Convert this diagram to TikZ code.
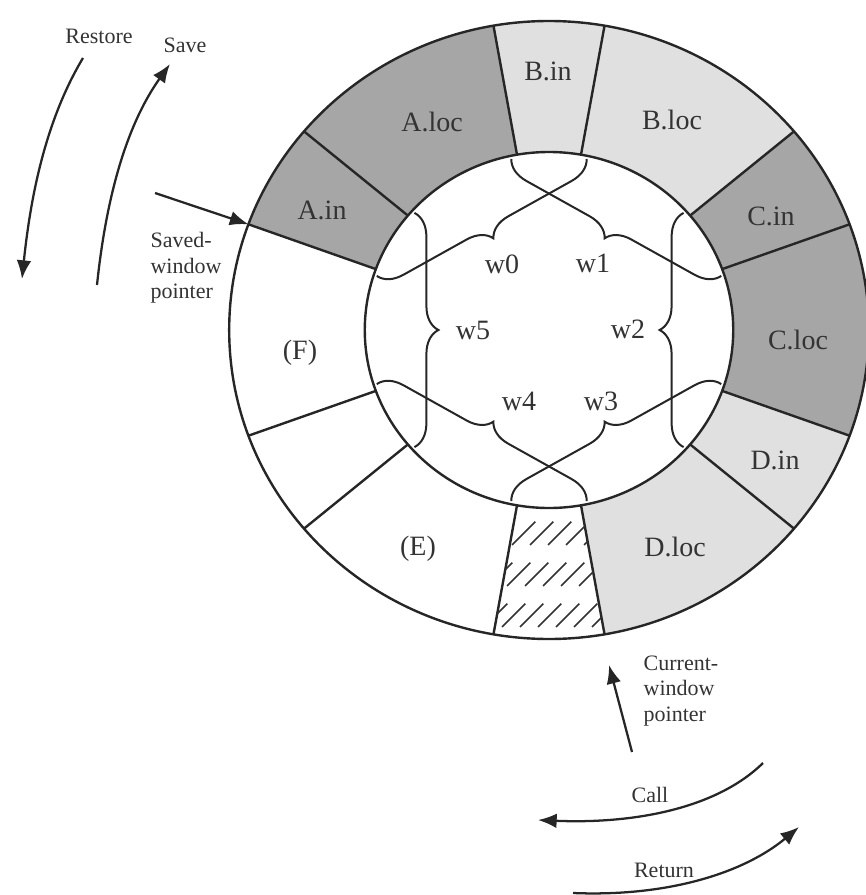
\documentclass[tikz,border=0pt]{standalone}
\usepackage{fontspec}
\setmainfont{Liberation Serif}
\usetikzlibrary{arrows.meta,decorations.pathreplacing}

\tikzset{
  seclabel/.style={font=\fontsize{21}{25}\selectfont, text=black!80, inner sep=0pt},
  notelabel/.style={font=\fontsize{16.5}{19}\selectfont, text=black!80, inner sep=0pt, align=left},
  darksec/.style={fill=black!35},
  lightsec/.style={fill=black!12},
  ringline/.style={line width=1.8pt, draw=black!85},
  wbrace/.style={decorate, decoration={brace, amplitude=18pt}, line width=1.5pt, draw=black!85},
  ptr/.style={line width=1.7pt, draw=black!85, -{Latex[length=14pt,width=11pt]}},
  hatchline/.style={line width=1.1pt, draw=black!80, dash pattern={on 24.75pt off 18.75pt}},
}

\begin{document}
\begin{tikzpicture}[x=0.75pt,y=0.75pt,yscale=-1,xscale=1]
\useasboundingbox (0,0) rectangle (865,895);

\begin{scope}[shift={(549,330)}, xscale=1.035, yscale=-1]
%Shape: Ring sectors
\fill[lightsec] (80:178) arc[start angle=80, end angle=100, radius=178] -- (100:309) arc[start angle=100, end angle=80, radius=309] -- cycle;
\fill[darksec] (100:178) arc[start angle=100, end angle=140, radius=178] -- (140:309) arc[start angle=140, end angle=100, radius=309] -- cycle;
\fill[darksec] (140:178) arc[start angle=140, end angle=160, radius=178] -- (160:309) arc[start angle=160, end angle=140, radius=309] -- cycle;
\fill[lightsec] (280:178) arc[start angle=280, end angle=320, radius=178] -- (320:309) arc[start angle=320, end angle=280, radius=309] -- cycle;
\fill[lightsec] (320:178) arc[start angle=320, end angle=340, radius=178] -- (340:309) arc[start angle=340, end angle=320, radius=309] -- cycle;
\fill[darksec] (-20:178) arc[start angle=-20, end angle=20, radius=178] -- (20:309) arc[start angle=20, end angle=-20, radius=309] -- cycle;
\fill[darksec] (20:178) arc[start angle=20, end angle=40, radius=178] -- (40:309) arc[start angle=40, end angle=20, radius=309] -- cycle;
\fill[lightsec] (40:178) arc[start angle=40, end angle=80, radius=178] -- (80:309) arc[start angle=80, end angle=40, radius=309] -- cycle;

%Shape: Circles
\draw[ringline] (0,0) circle[radius=309];
\draw[ringline] (0,0) circle[radius=178];

%Straight Lines: sector borders
\draw[ringline] (80:178) -- (80:309);
\draw[ringline] (100:178) -- (100:309);
\draw[ringline] (140:178) -- (140:309);
\draw[ringline] (160:178) -- (160:309);
\draw[ringline] (200:178) -- (200:309);
\draw[ringline] (220:178) -- (220:309);
\draw[ringline] (260:178) -- (260:309);
\draw[ringline] (280:178) -- (280:309);
\draw[ringline] (320:178) -- (320:309);
\draw[ringline] (340:178) -- (340:309);
\draw[ringline] (20:178) -- (20:309);
\draw[ringline] (40:178) -- (40:309);

%Shape: Window braces
\draw[wbrace] (78:175) -- (162:175);
\draw[wbrace] (18:175) -- (102:175);
\draw[wbrace] (-42:175) -- (42:175);
\draw[wbrace] (-102:175) -- (-18:175);
\draw[wbrace] (-162:175) -- (-78:175);
\draw[wbrace] (138:175) -- (222:175);

\coordinate (swp) at (160:309);
\end{scope}

%Shape: Hatched sector
\begin{scope}
\clip[shift={(549,330)}, xscale=1.035, yscale=-1] (260:178) arc[start angle=260, end angle=280, radius=178] -- (280:309) arc[start angle=280, end angle=260, radius=309] -- cycle;
\draw[hatchline] (430,627) -- ++(150,-150);
\draw[hatchline] (448,627) -- ++(150,-150);
\draw[hatchline] (466,627) -- ++(150,-150);
\draw[hatchline] (484,627) -- ++(150,-150);
\draw[hatchline] (502,627) -- ++(150,-150);
\draw[hatchline] (520,627) -- ++(150,-150);
\draw[hatchline] (538,627) -- ++(150,-150);
\draw[hatchline] (556,627) -- ++(150,-150);
\draw[hatchline] (574,627) -- ++(150,-150);
\draw[hatchline] (592,627) -- ++(150,-150);
\draw[hatchline] (610,627) -- ++(150,-150);
\end{scope}

% Text Node
\node[seclabel] (Bin) at (548,71) {B.in};
\node[seclabel] (Aloc) at (432,122) {A.loc};
\node[seclabel] (Ain) at (322,210) {A.in};
\node[seclabel] (Bloc) at (672,120) {B.loc};
\node[seclabel] (Cin) at (771,216) {C.in};
\node[seclabel] (Cloc) at (798,340) {C.loc};
\node[seclabel] (Din) at (775,460) {D.in};
\node[seclabel] (Dloc) at (675,547) {D.loc};
\node[seclabel] (E) at (418,549) {(E)};
\node[seclabel] (F) at (300,353) {(F)};
% Text Node
\node[seclabel] (w0) at (502,264) {w0};
\node[seclabel] (w1) at (593,263) {w1};
\node[seclabel] (w2) at (628,329) {w2};
\node[seclabel] (w3) at (601,401) {w3};
\node[seclabel] (w4) at (519,401) {w4};
\node[seclabel] (w5) at (473,330) {w5};
% Text Node
\node[notelabel] (restore) at (99,36) {Restore};
\node[notelabel] (save) at (185,45) {Save};
\node[notelabel] (swptext) at (186,268) {Saved-\\window\\pointer};
\node[notelabel] (cwptext) at (681,691) {Current-\\window\\pointer};
\node[notelabel] (call) at (650,795) {Call};
\node[notelabel] (return) at (664,870) {Return};

%Curve Lines
\coordinate (restore-a) at (83,58);
\coordinate (restore-b) at (22,279);
\draw[ptr] (restore-a) .. controls (44,123) and (30,202) .. (restore-b);
\coordinate (save-a) at (97,285);
\coordinate (save-b) at (170,64);
\draw[ptr] (save-a) .. controls (105,208) and (123,130) .. (save-b);
\coordinate (call-a) at (763,763);
\coordinate (call-b) at (538,820);
\draw[ptr] (call-a) .. controls (715,810) and (630,824) .. (call-b);
\coordinate (return-a) at (573,893);
\coordinate (return-b) at (799,827);
\draw[ptr] (return-a) .. controls (670,897) and (745,872) .. (return-b);
%Straight Lines
\coordinate (swp-tail) at (155,193);
\draw[ptr] (swp-tail) -- (swp);
\coordinate (cwp-tail) at (632,752);
\coordinate (cwp) at (609,665);
\draw[ptr] (cwp-tail) -- (cwp);

\end{tikzpicture}
\end{document}
